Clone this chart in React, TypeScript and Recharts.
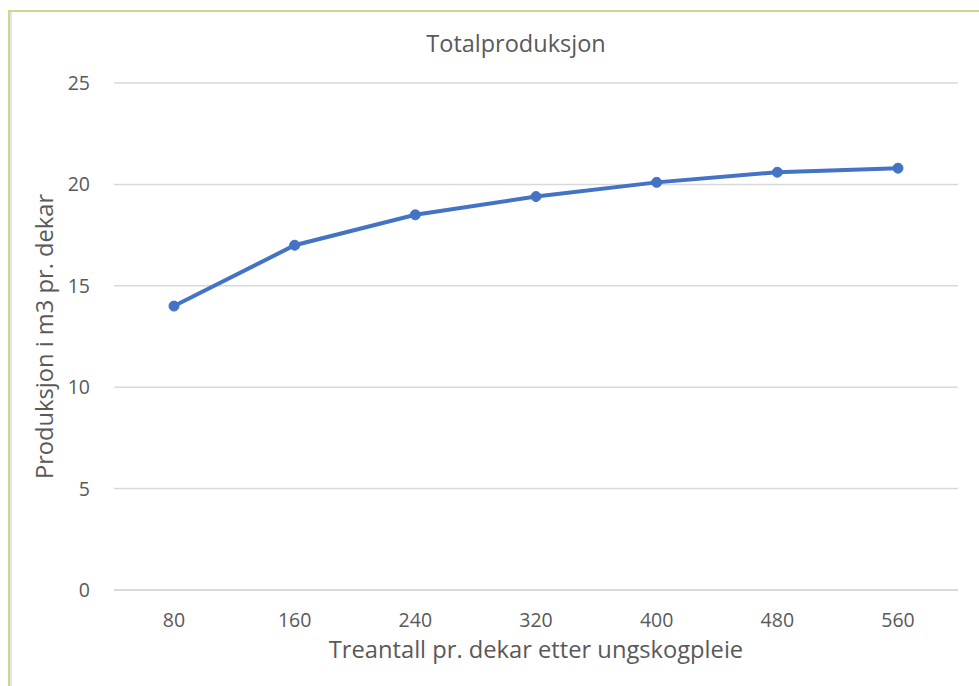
import { CartesianGrid, Label, Line, LineChart, XAxis, YAxis } from "recharts";

const treantall = ["80", "160", "240", "320", "400", "480", "560"];
const produksjon = [14.0, 17.0, 18.5, 19.4, 20.1, 20.6, 20.8];
const yTicks = [0, 5, 10, 15, 20, 25];

const data = treantall.map((t, i) => ({ treantall: t, produksjon: produksjon[i] }));

const FONT = "'Open Sans', sans-serif";
const GREY = "#595959";

export default function App() {
  return (
    <div style={{ position: "absolute", left: 0, top: 0, width: 979, height: 686, background: "#fff", fontFamily: FONT }}>
      <div
        style={{
          position: "absolute",
          left: 8,
          top: 10,
          width: 971,
          height: 676,
          borderTop: "2px solid #c5dd8b",
          borderLeft: "2px solid #c5dd8b",
          boxShadow: "inset 2px 0 0 #e4e4e4",
          boxSizing: "border-box",
        }}
      />
      <div
        style={{
          position: "absolute",
          left: 0,
          width: 1032,
          top: 27,
          textAlign: "center",
          fontSize: 23.5,
          fontFamily: FONT,
          color: GREY,
        }}
      >
        Totalproduksjon
      </div>
      <LineChart
        width={979}
        height={686}
        data={data}
        margin={{ top: 83, right: 21, bottom: 0, left: 0 }}
        style={{ position: "absolute", left: 0, top: 0 }}
      >
        <CartesianGrid vertical={false} stroke="#d9d9d9" strokeWidth={1.5} />
        <XAxis
          dataKey="treantall"
          height={96}
          padding={{ left: 60, right: 60 }}
          axisLine={{ stroke: "#d9d9d9", strokeWidth: 1.5 }}
          tickLine={false}
          tickSize={0}
          tickMargin={23}
          tick={{ fill: GREY, fontSize: 19.5, fontFamily: FONT }}
        >
          <Label
            content={({ viewBox }: any) => (
              <text
                x={viewBox.x + viewBox.width / 2}
                y={658}
                textAnchor="middle"
                fill={GREY}
                fontSize={23.7}
                fontFamily={FONT}
              >
                Treantall pr. dekar etter ungskogpleie
              </text>
            )}
          />
        </XAxis>
        <YAxis
          width={114}
          domain={[0, 25]}
          ticks={yTicks}
          axisLine={false}
          tickLine={false}
          tickSize={0}
          tickMargin={24}
          tick={{ fill: GREY, fontSize: 19.5, fontFamily: FONT }}
        >
          <Label
            content={({ viewBox }: any) => (
              <text
                x={53}
                y={viewBox.y + viewBox.height / 2}
                transform={`rotate(-90 53 ${viewBox.y + viewBox.height / 2})`}
                textAnchor="middle"
                fill={GREY}
                fontSize={23.7}
                fontFamily={FONT}
              >
                Produksjon i m3 pr. dekar
              </text>
            )}
          />
        </YAxis>
        <Line
          type="linear"
          dataKey="produksjon"
          stroke="#4472c4"
          strokeWidth={4}
          dot={{ r: 5, fill: "#4472c4", stroke: "#4472c4", strokeWidth: 1 }}
          isAnimationActive={false}
        />
      </LineChart>
    </div>
  );
}
